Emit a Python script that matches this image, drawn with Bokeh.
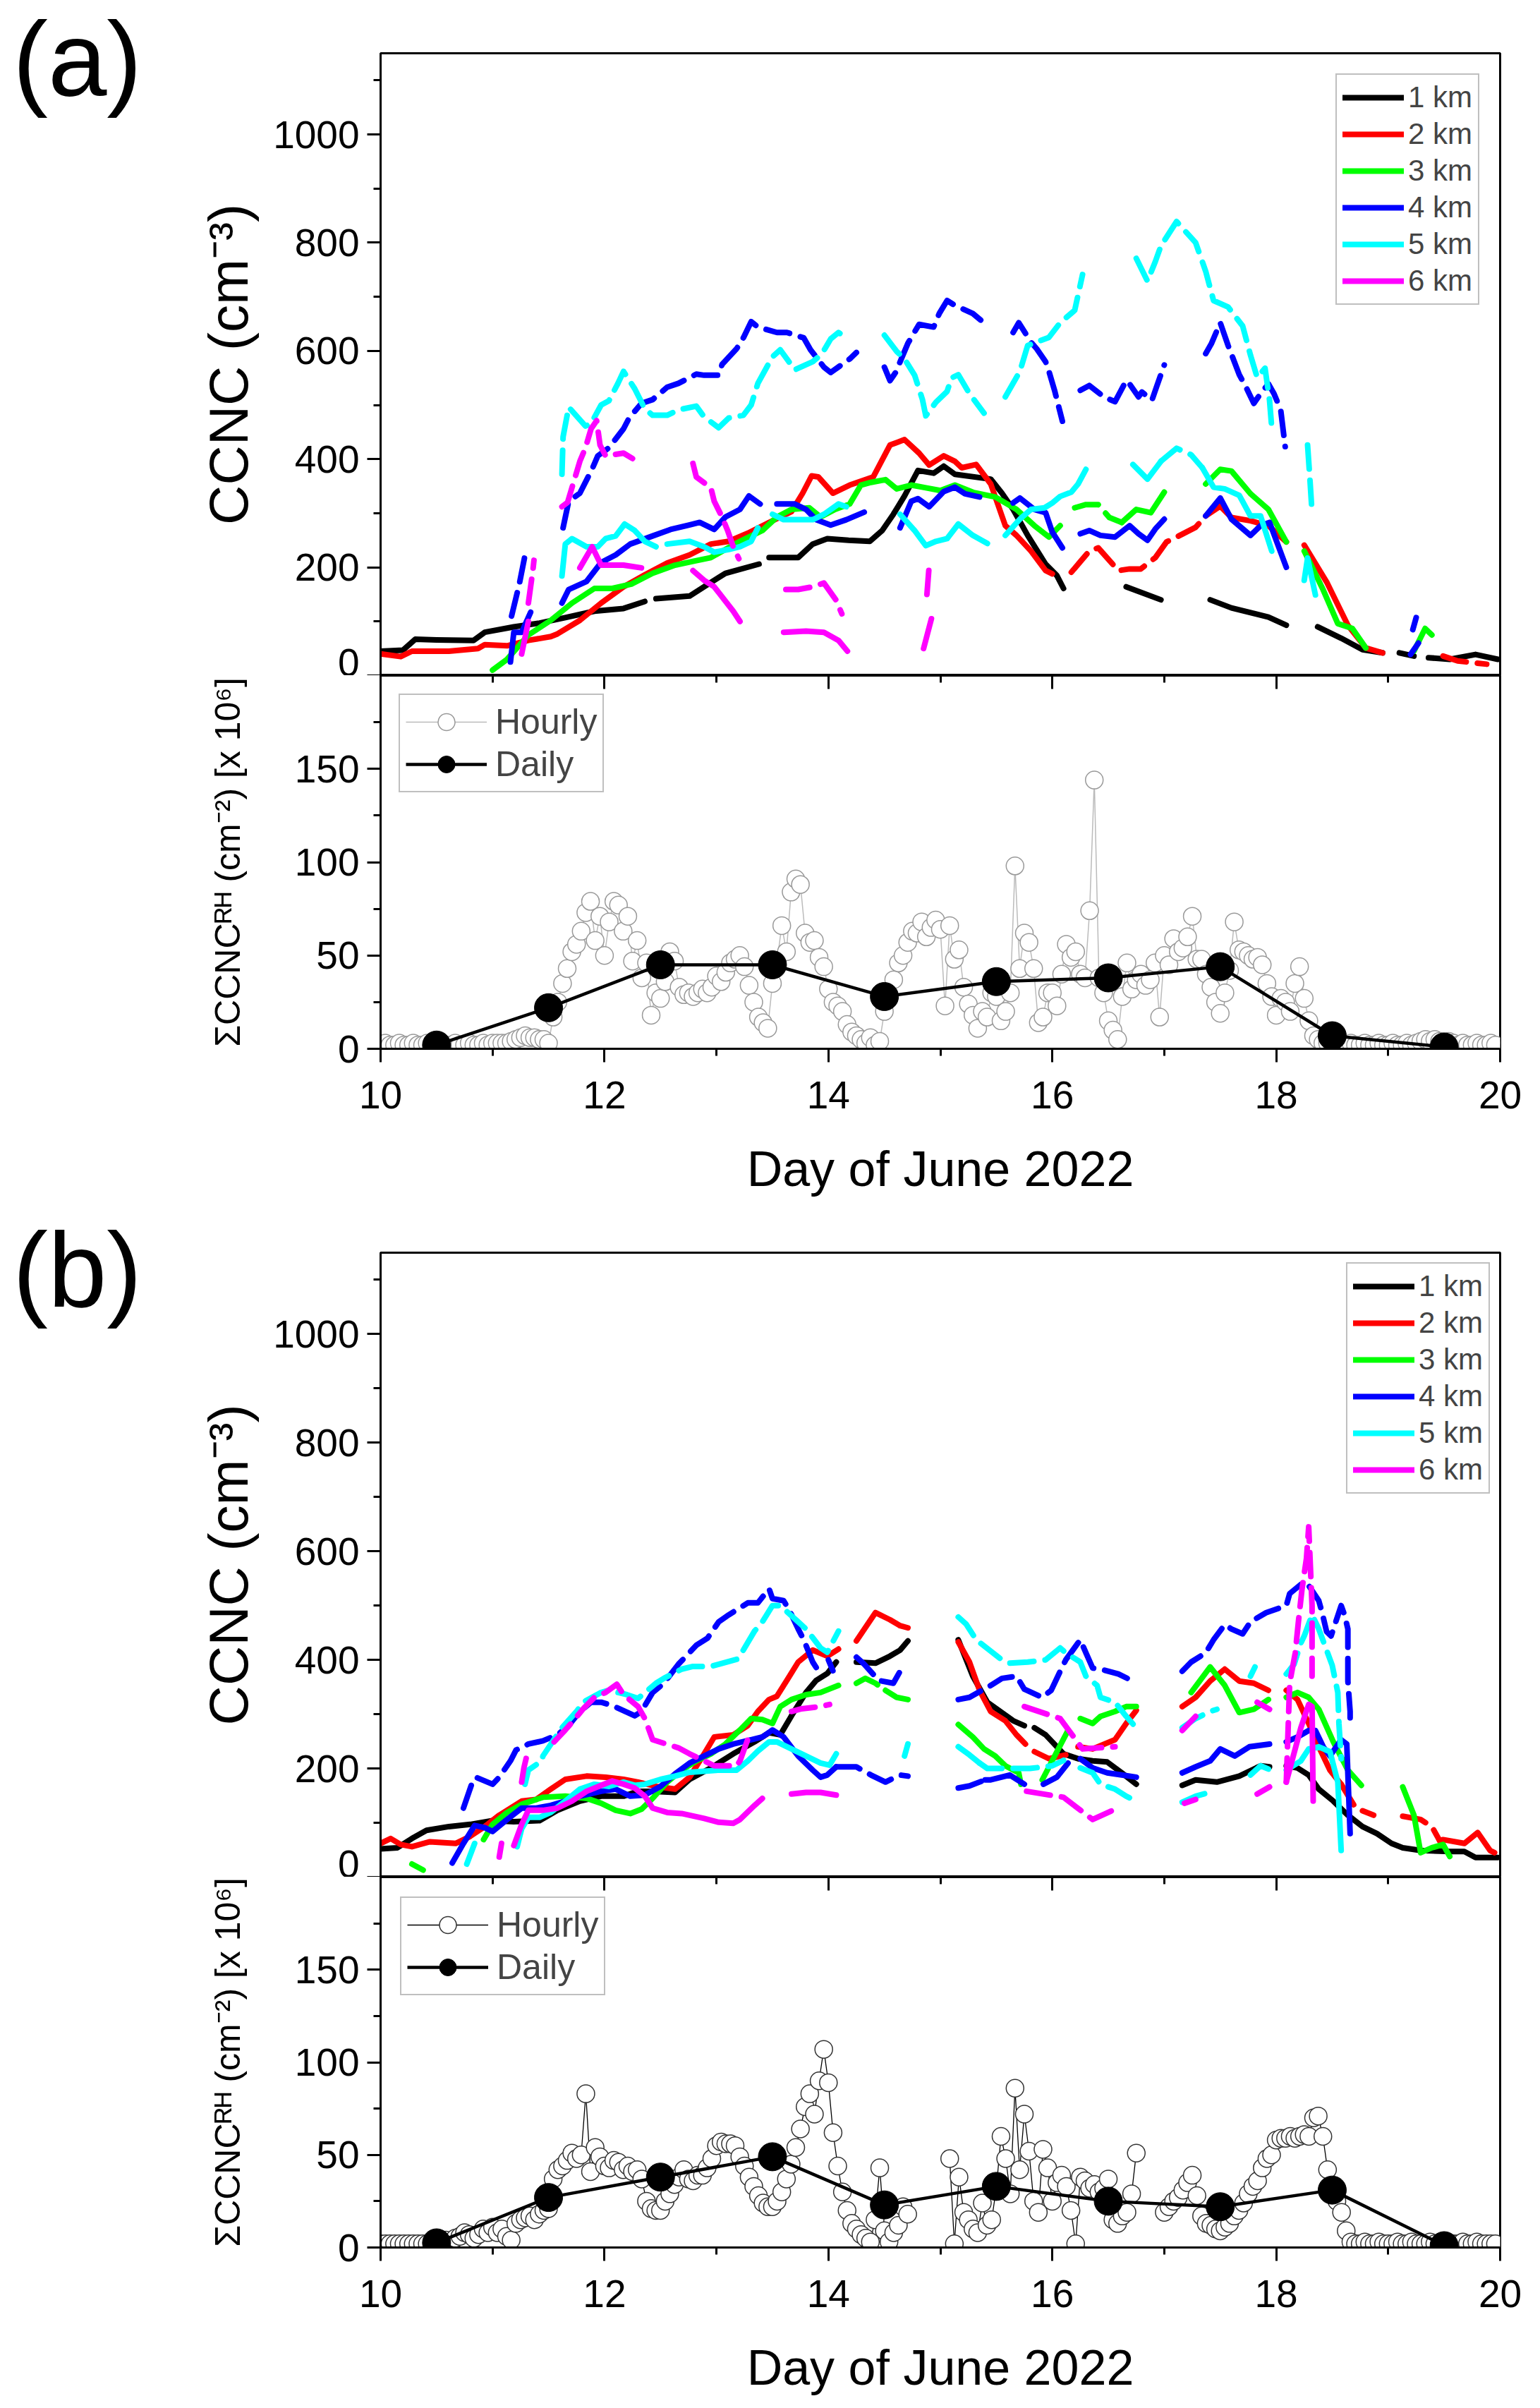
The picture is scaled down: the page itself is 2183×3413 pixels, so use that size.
import numpy as np
from bokeh.plotting import figure
from bokeh.models import Range1d, LinearAxis, FixedTicker, Legend, LegendItem, Div
from bokeh.layouts import column, row
from bokeh.embed import file_html
from bokeh.resources import INLINE

FONT = "Liberation Sans"

# ---------------- tick labels / axes ----------------
X_MAJOR = [10, 12, 14, 16, 18, 20]
X_MINOR = [11, 13, 15, 17, 19]
CCNC_MAJOR = [0, 200, 400, 600, 800, 1000]
CCNC_MINOR = [100, 300, 500, 700, 900, 1100]
SUM_MAJOR = [0, 50, 100, 150]
SUM_MINOR = [25, 75, 125, 175]
ALTITUDES = ["1 km", "2 km", "3 km", "4 km", "5 km", "6 km"]
COLORS = ["#000000", "#FF0000", "#00FF00", "#0000FF", "#00FFFF", "#FF00FF"]

# ---------------- panel (a) CCNC series: (day, CCNC) ; None = gap ----------------
A1_SOLID = [(10.0,45),(10.2,47),(10.31,67),(10.5,66),(10.83,65),(10.93,80),(11.19,90),(11.42,97),(11.65,107),(11.91,119),(12.17,124),(12.36,137),None,(12.46,142),(12.76,147),(12.89,164),(13.08,189),(13.38,206),None,(13.47,218),(13.73,218),(13.86,243),(13.99,253),(14.18,250),(14.37,248),(14.48,268),(14.58,298),(14.68,332),(14.8,379),(14.94,374),(15.03,387),(15.13,372),(15.45,363),(15.55,337),(15.65,307),(15.78,259),(15.94,206),(16.04,185),(16.1,161),None,(16.66,164),(16.97,140),None,(17.41,140),(17.6,125),(17.93,108),(18.09,93),None,(18.37,90),(18.58,69),(18.77,48),(18.95,42),None,(19.1,42),(19.23,36),None,(19.36,33),(19.55,30),(19.78,39),(19.98,30)]
A1_DASH = []
A2_SOLID = [(10.0,40),(10.18,35),(10.28,45),(10.61,45),(10.87,50),(10.93,57),(11.13,55),(11.32,65),(11.52,72),(11.58,77),(11.78,102),(11.97,134),(12.17,164),(12.36,186),(12.56,208),(12.76,223),(12.95,243),(13.11,248),(13.28,263),(13.47,283),(13.67,303),(13.77,337),(13.85,369),(13.91,367),(14.04,337),(14.19,352),(14.29,359),(14.4,367),(14.55,426),(14.68,436),(14.81,411),(14.9,389),(15.03,406),(15.13,396),(15.19,384),(15.32,390),(15.45,354),(15.58,277),(15.68,259),(15.81,230),(15.94,194),(16.0,188),None,(17.37,295),(17.5,313),(17.6,292),(17.77,286),(17.93,277),(18.09,247),None,(18.25,241),(18.45,173),(18.64,93),(18.8,51),(18.95,42)]
A2_DASH = [(16.17,191),(16.33,230),(16.41,236),(16.59,194),(16.69,197),(16.79,197),(16.92,218),(17.02,247),(17.11,256),(17.28,274),(17.37,295),None,(19.49,36),(19.62,27),(19.88,21)]
A3_SOLID = [(11.0,10),(11.13,30),(11.32,75),(11.52,102),(11.71,134),(11.91,161),(12.07,161),(12.24,169),(12.43,189),(12.63,204),(12.79,211),(12.95,218),(13.08,233),(13.21,248),(13.41,268),(13.54,293),(13.67,307),(13.83,310),(13.93,293),(14.06,307),(14.19,317),(14.29,352),(14.38,357),(14.51,362),(14.61,345),(14.74,352),(14.87,347),(15.0,342),(15.13,352),(15.3,338),(15.49,330),(15.68,307),(15.84,277),(15.97,256),(16.07,277),None,(16.62,283),(16.75,307),(16.88,301),(17.0,339),None,(17.37,354),(17.5,381),(17.6,378),(17.77,336),(17.93,307),(18.09,247),None,(18.25,230),(18.42,158),(18.55,96),(18.68,87),(18.8,51),None,(19.23,45),(19.33,87),(19.39,75)]
A3_DASH = [(16.2,310),(16.3,316),(16.41,316),(16.51,292),(16.62,283)]
A4_SOLID = [(11.16,25),(11.19,80),(11.26,80),(11.34,117),None,(11.62,134),(11.68,159),(11.84,174),(11.97,209),(12.1,223),(12.23,243),(12.43,258),(12.59,270),(12.75,278),(12.85,283),(12.98,270),(13.08,293),(13.21,307),(13.29,332),(13.39,317),None,(13.54,317),(13.7,317),(13.8,307),(13.89,288),(14.02,278),(14.16,288),(14.32,302),None,(14.64,273),(14.74,322),(14.8,327),(14.9,312),(15.03,340),(15.13,348),(15.22,336),(15.35,330),None,(15.65,319),(15.71,328),(15.84,307),(15.94,301),(16.0,265),(16.09,236),None,(16.25,262),(16.33,268),(16.43,259),(16.56,256),(16.69,277),(16.77,262),(16.85,250),(16.92,271),(17.0,289),None,(17.37,295),(17.5,328),(17.6,289),(17.77,259),(17.86,277),(17.94,283),(18.09,200),None,(19.2,39),(19.27,60)]
A4_DASH = [(11.17,110),(11.24,170),(11.3,233),None,(11.63,273),(11.68,322),(11.78,337),(11.89,382),(11.94,406),(12.04,421),(12.17,456),(12.22,476),(12.33,503),(12.43,510),(12.56,533),(12.66,540),(12.82,557),(12.89,555),(13.02,555),(13.05,575),(13.18,604),(13.24,624),(13.31,654),(13.37,644),(13.54,634),(13.63,634),(13.78,624),(13.84,602),(13.96,570),(14.02,560),(14.19,585),(14.25,597),None,(14.5,570),(14.55,545),(14.6,560),(14.71,614),(14.81,649),(14.94,644),(14.99,669),(15.06,693),(15.13,684),(15.29,669),(15.36,657),None,(15.65,634),(15.7,652),(15.81,616),(15.86,604),(15.94,580),(15.97,562),(16.02,527),(16.09,470),None,(16.25,527),(16.33,536),(16.46,515),(16.56,506),(16.66,545),(16.69,539),(16.77,515),(16.8,524),(16.89,509),(16.93,533),(17.0,574),None,(17.37,595),(17.42,613),(17.5,652),(17.57,610),(17.67,556),(17.73,533),(17.8,503),(17.86,521),(17.93,539),(17.98,521),(18.04,491),(18.08,423),None,(19.22,85),(19.25,107)]
A5_SOLID = [(11.62,184),(11.65,243),(11.71,253),(11.84,238),(11.94,238),(12.01,253),(12.1,258),(12.18,280),(12.27,268),(12.36,248),(12.46,238),None,(12.56,243),(12.76,248),(12.89,238),(12.98,228),(13.11,233),(13.21,238),(13.31,248),(13.37,273),None,(13.5,298),(13.6,288),(13.73,288),(13.86,288),(13.96,298),(14.09,317),(14.16,312),None,(14.64,298),(14.77,268),(14.87,240),(14.96,248),(15.06,253),(15.16,280),(15.29,259),(15.42,244),None,(15.58,259),(15.71,289),(15.81,307),(15.93,310),(16.0,319),(16.07,331),(16.17,339),(16.23,354),(16.3,381),None,(16.72,390),(16.85,363),(16.97,396),None,(17.34,384),(17.44,348),(17.54,345),(17.67,333),(17.77,295),(17.86,295),(17.96,230),None,(18.25,176),(18.28,217),(18.35,149)]
A5_DASH = [(11.62,372),(11.63,441),(11.68,496),(11.83,461),(11.88,466),(11.97,500),(12.04,508),(12.12,540),(12.17,562),(12.27,530),(12.36,493),(12.43,481),(12.56,481),(12.66,491),(12.82,498),(12.89,478),(13.02,458),(13.11,476),(13.24,481),(13.31,500),(13.37,540),(13.5,589),(13.57,602),(13.7,565),(13.86,580),(13.94,594),(14.02,622),(14.09,634),(14.16,624),None,(14.5,629),(14.61,599),(14.68,585),(14.77,555),(14.84,510),(14.87,480),(14.96,505),(15.06,525),(15.1,550),(15.16,556),(15.26,521),(15.39,485),None,(15.58,515),(15.71,562),(15.78,610),(15.97,625),(16.07,652),(16.2,675),(16.27,741),None,(16.75,771),(16.85,729),(16.92,765),(16.97,794),(17.11,839),(17.28,800),(17.37,747),(17.44,693),(17.57,681),(17.7,646),(17.77,592),(17.83,551),(17.9,568),(17.94,509),(17.96,458),None,(18.28,426),(18.3,366),(18.32,301),None,(16.97,396),(17.11,420),(17.24,408),(17.34,384)]
A6_SOLID = [(11.26,40),(11.32,100),None,(11.78,199),(11.89,238),(11.97,204),(12.17,204),(12.33,199),None,(12.79,194),(12.89,176),(12.98,164),(13.15,119),(13.21,100),None,(13.6,80),(13.8,82),(13.96,80),(14.09,65),(14.17,45),None,(14.85,50),(14.92,105)]
A6_DASH = [(11.32,134),(11.36,194),(11.37,213),None,(11.62,312),(11.67,320),(11.78,396),(11.83,421),(11.88,456),(11.93,471),(11.96,426),(12.01,406),(12.17,411),(12.25,401),None,(12.79,392),(12.82,367),(12.95,347),(12.98,322),(13.05,293),(13.1,268),(13.15,238),(13.2,216),None,(13.62,159),(13.73,159),(13.86,164),(13.96,171),(14.07,139),(14.12,114),None,(14.88,150),(14.9,203)]

# ---------------- panel (b) CCNC series ----------------
B1_SOLID = [(10.0,52),(10.15,54),(10.28,71),(10.41,86),(10.61,93),(10.8,97),(11.0,104),(11.19,102),(11.42,104),(11.58,123),(11.78,140),(11.97,149),(12.17,149),(12.3,158),(12.43,158),(12.63,156),(12.76,180),(12.95,201),(13.15,227),(13.34,249),(13.47,266),(13.57,262),(13.67,297),(13.8,340),(13.89,362),(13.99,375),(14.07,396),None,(14.25,396),(14.42,394),(14.55,407),(14.64,418),(14.71,435),None,(15.16,437),(15.29,370),(15.42,322),(15.65,288),(15.75,279),None,(15.84,275),(15.94,262),(16.1,227),(16.23,218),(16.36,214),(16.49,212),(16.62,192),(16.75,171),None,(17.16,169),(17.28,179),(17.47,175),(17.67,186),(17.86,205),(17.94,203),None,(18.09,205),(18.19,201),(18.29,188),(18.38,162),(18.51,140),(18.64,114),(18.77,93),(18.9,80),(19.03,62),(19.13,54),(19.29,49),(19.55,47),(19.68,47),(19.78,36),(19.98,36)]
B1_DASH = []
B2_SOLID = [(10.0,62),(10.09,71),(10.18,60),(10.28,56),(10.44,65),(10.67,62),(10.8,75),(10.93,93),(11.06,114),(11.26,140),(11.39,143),(11.52,162),(11.65,180),(11.84,186),(12.01,184),(12.17,180),(12.3,175),(12.46,167),(12.63,162),(12.76,184),(12.89,227),(12.98,258),(13.15,262),(13.28,279),(13.37,305),(13.47,327),(13.54,333),(13.64,366),(13.73,396),(13.86,418),(13.99,407),(14.09,420),None,(14.25,435),(14.42,487),(14.55,474),(14.64,463),(14.71,459),None,(15.16,433),(15.26,396),(15.35,344),(15.45,305),(15.58,288),(15.68,262),(15.76,245),None,(15.84,231),(15.97,218),(16.12,225),None,(16.23,240),(16.36,236),(16.56,253),(16.66,283),(16.75,307),None,(17.16,314),(17.28,331),(17.41,361),(17.54,383),(17.67,361),(17.8,357),(17.93,344),None,(18.09,344),(18.19,327),(18.29,283),(18.38,240),(18.48,197),(18.58,171),None,(19.46,67),(19.49,69),(19.68,62),(19.8,82),(19.91,49),(19.95,45)]
B2_DASH = [(18.58,171),(18.71,127),(18.87,114),None,(19.13,112),(19.29,106),(19.39,93),(19.46,67)]
B3_SOLID = [(10.92,69),(11.0,97),(11.13,119),(11.26,134),(11.45,147),(11.65,149),(11.84,145),(11.97,136),(12.1,123),(12.23,117),(12.33,125),(12.43,145),(12.56,175),(12.69,197),(12.82,214),(12.95,227),(13.08,245),(13.21,271),(13.31,292),(13.41,290),(13.5,283),(13.57,314),(13.67,327),(13.8,336),(13.93,340),(14.09,353),None,(14.51,344),(14.61,331),(14.71,327),None,(15.16,281),(15.29,258),(15.39,236),(15.49,223),(15.58,205),(15.7,192),(15.72,171),None,(15.91,179),(16.14,270),None,(16.25,292),(16.36,283),(16.43,296),(16.56,305),(16.66,314),(16.75,314),None,(17.24,340),(17.41,387),(17.54,353),(17.67,303),(17.8,309),(17.93,327),None,(18.09,331),(18.19,340),(18.29,331),(18.38,309),(18.51,249),(18.64,197),(18.76,169),None,(19.13,166),(19.23,114),(19.29,45),(19.39,54),(19.49,60),(19.55,38)]
B3_DASH = [(10.28,24),(10.38,13),None,(14.25,357),(14.33,366),(14.42,357),(14.51,344)]
B4_SOLID = [(10.64,26),(10.74,62),(10.84,95),(10.93,91),(11.0,84),(11.13,106),(11.26,127),(11.39,127),(11.52,132),(11.65,140),(11.78,149),(11.97,158),(12.1,162),(12.23,149),(12.36,151),(12.5,167),(12.63,190),(12.76,210),(12.89,223),(13.02,236),(13.15,245),(13.31,253),(13.41,258),(13.5,271),(13.6,258),(13.73,223),(13.86,197),(13.93,184),(13.99,188),(14.07,203),None,(15.4,179),(15.45,179),(15.62,188),(15.75,171),None,(15.92,171),(16.04,184),(16.14,210),None,(16.25,218),(16.36,201),(16.49,192),(16.62,188),(16.75,184),None,(17.16,192),(17.28,203),(17.41,214),(17.5,236),(17.63,223),(17.76,240),(17.94,245),None,(18.09,249),(18.19,258),(18.29,270),(18.35,270),(18.42,240),(18.48,223),(18.58,253),(18.63,245),(18.66,80)]
B4_DASH = [(10.74,127),(10.82,175),(10.85,184),(11.0,171),(11.06,184),(11.16,214),(11.21,234),(11.32,245),(11.45,251),(11.58,262),(11.68,279),(11.78,305),(11.88,322),(11.97,322),(12.07,316),(12.27,297),(12.33,305),(12.43,340),(12.53,357),(12.66,392),(12.82,427),(12.92,440),(13.02,470),(13.11,483),(13.28,505),(13.37,505),(13.47,531),(13.5,513),(13.6,509),(13.65,492),(13.73,457),(13.78,437),(13.86,396),(13.9,383),None,(14.0,400),(14.04,380),None,(14.25,405),(14.32,392),(14.45,362),(14.58,357),(14.64,379),None,(14.07,203),(14.25,203),(14.38,188),(14.51,175),(14.64,188),(14.71,186),None,(15.16,327),(15.26,331),(15.45,353),(15.55,366),(15.68,370),(15.75,346),(15.91,331),(15.99,344),(16.07,379),(16.12,400),(16.25,437),(16.3,413),(16.36,385),(16.43,383),(16.59,374),(16.67,366),None,(17.16,379),(17.24,396),(17.37,413),(17.44,437),(17.54,465),(17.6,457),(17.7,448),(17.77,470),(17.91,487),(18.09,500),(18.12,522),(18.22,539),(18.27,543),(18.38,509),(18.41,487),(18.45,452),(18.49,444),(18.58,500),(18.61,483),(18.64,457),(18.64,414),(18.64,361),(18.66,305),(18.66,283),None,(15.16,164),(15.26,168),(15.4,179)]
B5_SOLID = [(11.22,56),(11.26,89),(11.32,110),(11.42,110),(11.52,119),(11.65,140),(11.78,162),(11.91,171),(12.04,167),(12.17,175),(12.27,169),(12.36,171),(12.5,180),(12.63,186),(12.76,193),(12.89,195),(13.02,197),(13.18,197),(13.28,214),(13.37,232),(13.47,249),(13.54,249),(13.67,236),(13.8,223),(13.93,210),(14.01,206),(14.07,227),None,(15.16,240),(15.26,225),(15.35,210),None,(17.77,188),(17.86,205),(17.93,199),None,(18.09,197),(18.22,214),(18.29,236),(18.38,240),(18.48,231),(18.55,175),(18.58,49)]
B5_DASH = [(10.77,24),(10.84,62),None,(11.29,171),(11.32,197),(11.44,214),(11.45,223),(11.62,275),(11.75,305),(11.81,322),(11.97,340),(12.04,344),(12.2,336),(12.3,329),(12.46,357),(12.53,366),(12.69,383),(12.79,388),(12.95,388),(13.02,392),(13.18,401),(13.24,418),(13.34,453),(13.41,470),(13.5,500),(13.57,500),(13.73,470),(13.8,457),(13.93,422),(13.99,414),(14.09,453),None,(14.68,223),(14.71,245),None,(15.16,479),(15.23,466),(15.32,437),(15.55,400),(15.62,394),(15.78,396),(15.94,400),(16.07,422),(16.12,413),(16.25,396),(16.3,370),(16.4,353),(16.43,331),(16.56,322),(16.66,296),(16.75,275),None,(17.16,275),(17.28,292),(17.41,305),(17.47,309),None,(17.77,370),(17.81,387),None,(18.09,374),(18.16,392),(18.22,431),(18.25,444),(18.32,483),(18.38,457),(18.5,390),(18.55,340),(18.56,283),(18.58,218),None,(15.35,210),(15.42,200),(15.6,200),(15.8,200),(16.0,205),(16.1,215),None,(16.25,201),(16.36,192),(16.43,171),(16.56,162),(16.66,149),(16.75,140),None,(17.16,138),(17.28,149),(17.44,158)]
B6_SOLID = [(11.19,58),(11.26,97),(11.32,123),(11.45,123),(11.58,127),(11.71,140),(11.84,158),(11.97,169),(12.07,177),(12.17,171),(12.27,164),(12.36,149),(12.43,127),(12.56,119),(12.69,117),(12.89,108),(13.02,101),(13.15,99),(13.21,106),(13.34,132),(13.41,145),None,(13.67,153),(13.8,156),(13.93,156),(14.07,151),None,(17.18,136),(17.28,143),None,(18.09,175),(18.22,275),(18.29,318),(18.32,314),(18.33,140)]
B6_DASH = [(11.06,37),(11.08,62),None,(11.26,175),(11.28,201),(11.32,236),None,(11.55,249),(11.65,271),(11.73,290),(11.81,310),(11.91,331),(12.01,340),(12.11,355),(12.17,336),(12.3,314),(12.36,292),(12.43,253),(12.66,238),(12.76,227),(12.89,214),(12.98,205),(13.18,205),(13.21,214),(13.31,271),None,(13.67,305),(13.76,310),(13.93,314),(14.01,318),None,(15.75,314),(16.07,292),(16.27,236),(16.56,240),None,(15.77,158),(16.1,147),(16.36,106),(16.56,125),None,(17.16,270),(17.28,296),None,(17.83,322),(17.94,309),None,(17.83,153),(17.94,166),None,(18.09,175),(18.12,357),(18.17,413),(18.2,474),(18.23,530),(18.27,587),(18.29,645),(18.32,500),(18.32,435),(18.32,370)]

# ---------------- column CCNC (x 10^6 cm^-2) ----------------
DAILY_DAYS = [10.5, 11.5, 12.5, 13.5, 14.5, 15.5, 16.5, 17.5, 18.5, 19.5]
A_DAILY = [2, 22, 45, 45, 28, 36, 38, 44, 7, 1]
B_DAILY = [2.5, 27, 38, 49, 23, 33, 25, 22, 31, 1]

# hourly values, one list per day (hour 0..23); None = no data
A_HOURLY = [
    [2,3,2,2,3,2,2,3,2,2,3,2,2,3,2,2,3,2,2,3,2,2,3,2],
    [3,3,3,3,4,5,6,7,6,6,5,5,3,17,25,35,43,52,56,63,73,79,58,71],
    [50,68,79,77,63,71,47,58,38,46,18,30,27,36,52,47,33,29,30,28,30,32,30,33],
    [39,36,41,46,48,50,44,34,25,17,14,11,35,47,66,52,84,91,88,62,57,58,49,44],
    [32,25,23,20,13,9,7,5,3,6,2,4,20,27,37,46,50,57,63,62,68,60,65,69],
    [64,23,66,48,53,33,24,18,11,20,17,30,28,15,20,30,98,43,62,57,43,14,17,30],
    [30,23,40,56,49,52,40,38,74,144,38,30,15,10,5,28,46,32,37,40,34,37,46,17],
    [50,45,59,52,54,60,71,48,48,40,33,25,19,30,42,68,53,52,50,48,49,45,35,28],
    [18,27,25,20,35,44,27,15,7,5,3,3,2,3,2,2,3,2,2,3,2,2,3,2],
    [2,3,2,2,3,2,3,4,5,4,5,4,3,4,3,2,3,2,2,3,2,2,3,2],
]
B_HOURLY = [
    [2,2,2,2,2,2,2,2,2,2,2,2,2,3,4,3,5,6,8,7,5,7,10,8],
    [11,8,10,6,4,13,15,16,17,15,18,20,21,37,42,44,47,51,48,50,83,41,54,49],
    [44,43,47,46,42,44,41,42,37,25,21,20,20,25,29,34,38,42,37,36,39,39,43,48],
    [55,57,56,56,55,49,44,38,33,28,24,22,22,25,30,37,45,54,64,76,83,72,90,107],
    [89,62,44,30,20,13,10,7,5,3,15,43,9,3,8,12,22,18,None,None,None,None,None,None],
    [None,None,48,2,38,19,15,10,8,24,12,15,32,60,48,29,86,42,72,52,25,19,53,43],
    [25,35,39,33,20,2,38,36,32,34,30,32,37,15,13,17,19,29,51,None,None,None,None,None],
    [19,22,25,27,31,35,39,28,17,13,12,10,9,11,13,17,20,24,29,33,36,43,48,50],
    [58,59,59,60,59,60,61,60,70,71,60,42,32,25,19,9,3,2,2,3,2,2,3,2],
    [2,2,3,2,2,3,2,2,2,3,2,2,3,2,2,2,3,2,2,3,2,2,2,2],
]

# ---------------- layout constants ----------------
W = 2167
LEFT = 539
RIGHT = 41
LETTER_W = 200
CCNC_TOP = 1150
SUM_TOP = 200


def xy(pts):
    xs = np.array([p[0] if p is not None else np.nan for p in pts], dtype=float)
    ys = np.array([p[1] if p is not None else np.nan for p in pts], dtype=float)
    return xs, ys


def hourly_xy(days):
    xs, ys = [], []
    for d, vals in enumerate(days):
        for h, v in enumerate(vals):
            xs.append(10 + d + h / 24.0)
            ys.append(np.nan if v is None else v)
    return np.array(xs), np.array(ys, dtype=float)


def base_fig(width, left, height, top, bottom, xr, yr):
    p = figure(width=width, height=height, x_range=xr, y_range=yr,
               output_backend="svg", toolbar_location=None,
               x_axis_location=None, y_axis_location=None,
               min_border_left=left, min_border_right=RIGHT,
               min_border_top=top, min_border_bottom=bottom)
    p.grid.grid_line_color = None
    p.outline_line_color = "black"
    p.outline_line_width = 3
    p.background_fill_color = "white"
    p.border_fill_color = "white"
    return p


def style_axis(ax, fs="55px"):
    ax.axis_line_width = 3
    ax.axis_line_color = "black"
    ax.major_tick_line_width = 3
    ax.minor_tick_line_width = 3
    ax.major_tick_out = 19
    ax.major_tick_in = 0
    ax.minor_tick_out = 10
    ax.minor_tick_in = 0
    ax.major_label_text_font = FONT
    ax.major_label_text_font_size = fs
    ax.major_label_text_color = "black"
    ax.axis_label_text_font = FONT
    ax.axis_label_text_font_style = "normal"
    ax.axis_label_text_color = "black"


def letter_div(letter, height):
    html = ('<div style="position:relative; left:18px; top:9px; margin:0; padding:0; '
            'font-family:\'Liberation Sans\', Arial, sans-serif; font-size:150px; '
            'line-height:150px; color:#000;">%s</div>' % letter)
    return Div(text=html, width=LETTER_W, height=height, margin=0)


def ccnc_fig(series, height, top, xr, legend_margin):
    p = base_fig(W - LETTER_W, LEFT - LETTER_W, height, top, 0, xr, Range1d(0, CCNC_TOP))
    ax = LinearAxis(ticker=FixedTicker(ticks=CCNC_MAJOR, minor_ticks=CCNC_MINOR),
                    axis_label="CCNC (cm⁻³)")
    style_axis(ax)
    ax.major_label_standoff = 11
    ax.axis_label_standoff = 16
    ax.axis_label_text_font_size = "78px"
    p.add_layout(ax, "left")
    items = []
    for (solid, dash), color, name in zip(series, COLORS, ALTITUDES):
        if dash:
            dx, dy = xy(dash)
            p.line(dx, dy, line_color=color, line_width=8, line_dash="34 16",
                   line_cap="round", line_join="round")
        sx, sy = xy(solid)
        r = p.line(sx, sy, line_color=color, line_width=8,
                   line_cap="round", line_join="round")
        items.append(LegendItem(label=name, renderers=[r]))
    leg = Legend(items=items, location="top_right", margin=legend_margin,
                 label_text_font=FONT, label_text_font_size="42px",
                 glyph_width=87, glyph_height=40, label_height=40,
                 label_standoff=6, spacing=4, padding=8,
                 border_line_color="#808080", border_line_width=2,
                 background_fill_alpha=1.0)
    p.add_layout(leg)
    return p


def sum_fig(hourly, daily, height, bottom, xr, hcolor, hmark, hlw, legend_margin):
    p = base_fig(W, LEFT, height, 0, bottom, xr, Range1d(0, SUM_TOP))
    yax = LinearAxis(ticker=FixedTicker(ticks=SUM_MAJOR, minor_ticks=SUM_MINOR),
                     axis_label="ΣCCNCᴿᴴ (cm⁻²) [x 10⁶]")
    style_axis(yax)
    yax.major_label_standoff = 11
    yax.axis_label_standoff = 64
    yax.axis_label_text_font_size = "50px"
    p.add_layout(yax, "left")
    xax = LinearAxis(ticker=FixedTicker(ticks=X_MAJOR, minor_ticks=X_MINOR),
                     axis_label="Day of June 2022")
    style_axis(xax)
    xax.major_label_standoff = 27
    xax.axis_label_standoff = 44
    xax.axis_label_text_font_size = "70px"
    p.add_layout(xax, "below")
    # ticks of the shared boundary with the upper panel (pointing down)
    top_ax = LinearAxis(ticker=FixedTicker(ticks=X_MAJOR, minor_ticks=X_MINOR),
                        fixed_location=SUM_TOP,
                        major_label_overrides={t: "" for t in X_MAJOR})
    style_axis(top_ax)
    p.add_layout(top_ax, "below")

    hx, hy = hourly_xy(hourly)
    hl = p.line(hx, hy, line_color=hcolor, line_width=hlw)
    hs = p.scatter(hx, hy, marker="circle", size=25, fill_color="white",
                   line_color=hmark, line_width=1.5)
    dl = p.line(DAILY_DAYS, daily, line_color="black", line_width=4.5)
    ds = p.scatter(DAILY_DAYS, daily, marker="circle", size=40, fill_color="black",
                   line_color="black")
    leg = Legend(items=[LegendItem(label="Hourly", renderers=[hl, hs]),
                        LegendItem(label="Daily", renderers=[dl, ds])],
                 location="top_left", margin=legend_margin,
                 label_text_font=FONT, label_text_font_size="50px",
                 glyph_width=115, glyph_height=60, label_height=50,
                 label_standoff=12, spacing=0, padding=8,
                 border_line_color="#808080", border_line_width=2,
                 background_fill_alpha=1.0)
    p.add_layout(leg)
    return p


xr = Range1d(10, 20)

A_SERIES = [(A1_SOLID, A1_DASH), (A2_SOLID, A2_DASH), (A3_SOLID, A3_DASH),
            (A4_SOLID, A4_DASH), (A5_SOLID, A5_DASH), (A6_SOLID, A6_DASH)]
B_SERIES = [(B1_SOLID, B1_DASH), (B2_SOLID, B2_DASH), (B3_SOLID, B3_DASH),
            (B4_SOLID, B4_DASH), (B5_SOLID, B5_DASH), (B6_SOLID, B6_DASH)]

HA1, HB1 = 957, 944
fa1 = ccnc_fig(A_SERIES, HA1, 75, xr, 29)
fa2 = sum_fig(A_HOURLY, A_DAILY, 759, 230, xr, "#BBBBBB", "#999999", 1.5, 26)
fb1 = ccnc_fig(B_SERIES, HB1, 59, xr, 14)
fb2 = sum_fig(B_HOURLY, B_DAILY, 737, 207, xr, "#000000", "#333333", 1.3, 28)

layout = column(row(letter_div("(a)", HA1), fa1, spacing=0), fa2,
                row(letter_div("(b)", HB1), fb1, spacing=0), fb2, spacing=0)

open("out.html", "w").write(file_html(layout, INLINE))
